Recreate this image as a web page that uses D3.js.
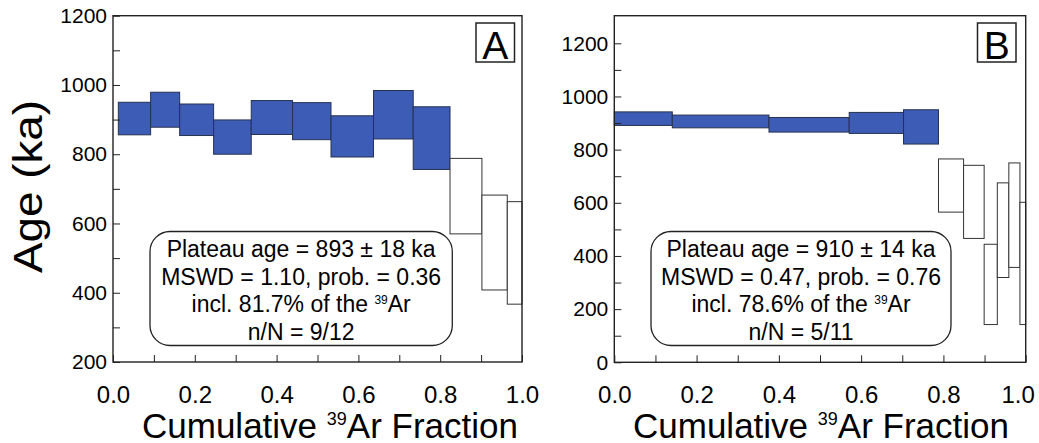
<!DOCTYPE html>
<html>
<head>
<meta charset="utf-8">
<script src="https://cdn.jsdelivr.net/npm/d3@7"></script>
<style>
    body { margin: 0; background: #fff; }
    svg text { font-family: "Liberation Sans", Arial, sans-serif; fill: #000; }
</style>
</head>
<body>
<script>
// step spectra: cumulative 39Ar fraction edges, step tops / bottoms (ka)
var edgesA = [0.013, 0.092, 0.163, 0.246, 0.338, 0.439, 0.533, 0.637, 0.734, 0.824, 0.902, 0.964, 1.0];
var topA = [950, 979, 945, 899, 955, 949, 911, 984, 937, 788, 682, 663];
var bottomA = [856, 878, 854, 800, 857, 842, 792, 844, 756, 570, 408, 367];
var plateauA = 9;

var edgesB = [0, 0.141, 0.376, 0.571, 0.703, 0.788, 0.849, 0.899, 0.931, 0.959, 0.986, 1.0];
var topB = [942, 930, 921, 940, 950, 765, 741, 444, 675, 750, 602];
var bottomB = [891, 882, 866, 861, 821, 565, 466, 142, 319, 357, 142];
var plateauB = 5;

var xTicks = [0, 0.1, 0.2, 0.3, 0.4, 0.5, 0.6, 0.7, 0.8, 0.9, 1.0];
var yTicksA = [200, 300, 400, 500, 600, 700, 800, 900, 1000, 1100, 1200];
var yTicksB = [0, 100, 200, 300, 400, 500, 600, 700, 800, 900, 1000, 1100, 1200];

var textA = ["Plateau age = 893 \u00b1 18 ka", "MSWD = 1.10, prob. = 0.36", "incl. 81.7% of the ", "n/N = 9/12"];
var textB = ["Plateau age = 910 \u00b1 14 ka", "MSWD = 0.47, prob. = 0.76", "incl. 78.6% of the ", "n/N = 5/11"];

var svg = d3.select("body").append("svg")
    .attr("width", 1039)
    .attr("height", 443);

function dropEmpty(sel) {
    sel.selectAll("text").filter(function() { return this.textContent === ""; }).remove();
}

function drawPanel(p) {
    var x = d3.scaleLinear().domain([0, 1]).range([p.left, p.right]);
    var y = d3.scaleLinear().domain(p.yDomain).range([p.bottom, p.bottom - (p.yDomain[1] - p.yDomain[0]) * p.pxPerUnit]);

    var steps = p.tops.map(function(t, i) {
        return { x0: p.edges[i], x1: p.edges[i + 1], top: t, bottom: p.bottoms[i], inPlateau: i < p.plateau };
    });

    var g = svg.append("g");

    g.selectAll("rect.step")
        .data(steps)
        .enter().append("rect")
        .attr("class", "step")
        .attr("x", d => x(d.x0))
        .attr("width", d => x(d.x1) - x(d.x0))
        .attr("y", d => y(d.top))
        .attr("height", d => y(d.bottom) - y(d.top))
        .attr("fill", d => d.inPlateau ? "#3d5cb6" : "#fff")
        .attr("stroke", d => d.inPlateau ? "#27324f" : "#333")
        .attr("stroke-width", 1);

    // y axis, ticks pointing inward
    var yAxis = d3.axisLeft(y)
        .tickValues(p.yTicks)
        .tickSize(-7)
        .tickPadding(6)
        .tickFormat(d => d % 200 === 0 ? d : "");
    var ya = g.append("g").attr("transform", "translate(" + p.left + ",0)").call(yAxis);
    ya.select(".domain").remove();
    dropEmpty(ya);
    ya.selectAll("text").style("font-size", "21px");
    ya.selectAll("line").attr("stroke", "#222");

    var xAxis = d3.axisBottom(x)
        .tickValues(xTicks)
        .tickSize(-7)
        .tickPadding(24)
        .tickFormat(d => Math.round(d * 10) % 2 === 0 ? d3.format(".1f")(d) : "");
    var xa = g.append("g").attr("transform", "translate(0," + p.bottom + ")").call(xAxis);
    xa.select(".domain").remove();
    dropEmpty(xa);
    xa.selectAll("text").style("font-size", "24px");
    xa.selectAll("line").attr("stroke", "#222");
    // last label pulled in a bit where the page edge is near
    xa.selectAll("text").filter(d => d === 1).attr("dx", p.lastShift);

    // frame
    g.append("rect")
        .attr("x", p.left).attr("y", p.top)
        .attr("width", p.right - p.left).attr("height", p.bottom - p.top)
        .attr("fill", "none").attr("stroke", "#222").attr("stroke-width", 1.4);

    // panel letter
    g.append("rect")
        .attr("x", p.letterBox[0]).attr("y", 23)
        .attr("width", 38.5).attr("height", 39)
        .attr("fill", "#fff").attr("stroke", "#222").attr("stroke-width", 1.5);
    g.append("text")
        .attr("x", p.letterBox[0] + 19.3).attr("y", 58.5)
        .attr("text-anchor", "middle")
        .style("font-size", "39px")
        .text(p.letter);

    // plateau info box
    g.append("rect")
        .attr("x", p.box[0]).attr("y", 231.5)
        .attr("width", p.box[1] - p.box[0]).attr("height", 114)
        .attr("rx", 20).attr("ry", 20)
        .attr("fill", "#fff").attr("stroke", "#222").attr("stroke-width", 1.3);
    var cx = (p.box[0] + p.box[1]) / 2;
    p.lines.forEach(function(line, i) {
        var t = g.append("text")
            .attr("x", cx).attr("y", 256.8 + i * 27.8)
            .attr("text-anchor", "middle")
            .style("font-size", "23px");
        if (i === 2) {
            t.append("tspan").text(line);
            t.append("tspan").attr("dy", -8).style("font-size", "12px").text("39");
            t.append("tspan").attr("dy", 8).text("Ar");
        } else {
            t.text(line);
        }
    });

    // x title
    var xt = g.append("text")
        .attr("x", p.titleX).attr("y", 437.5)
        .attr("text-anchor", "middle")
        .style("font-size", "35px");
    xt.append("tspan").text("Cumulative ");
    xt.append("tspan").attr("dy", -13).style("font-size", "18px").text("39");
    xt.append("tspan").attr("dy", 13).text("Ar Fraction");
}

drawPanel({
    left: 113, right: 522, top: 15.7, bottom: 362,
    yDomain: [200, 1200], pxPerUnit: (362 - 15.7) / 1000,
    edges: edgesA, tops: topA, bottoms: bottomA, plateau: plateauA,
    yTicks: yTicksA, letter: "A", letterBox: [476], box: [150, 452.3],
    lines: textA, titleX: 330, lastShift: 0
});

drawPanel({
    left: 614.3, right: 1025.7, top: 15.7, bottom: 362.3,
    yDomain: [0, 1300], pxPerUnit: 319 / 1200,
    edges: edgesB, tops: topB, bottoms: bottomB, plateau: plateauB,
    yTicks: yTicksB, letter: "B", letterBox: [977.5], box: [651, 951],
    lines: textB, titleX: 821, lastShift: -8
});

// y axis title
svg.append("text")
    .attr("transform", "translate(42,186.5) rotate(-90)")
    .attr("text-anchor", "middle")
    .attr("textLength", 173)
    .attr("lengthAdjust", "spacingAndGlyphs")
    .style("font-size", "40px")
    .text("Age (ka)");
</script>
</body>
</html>
